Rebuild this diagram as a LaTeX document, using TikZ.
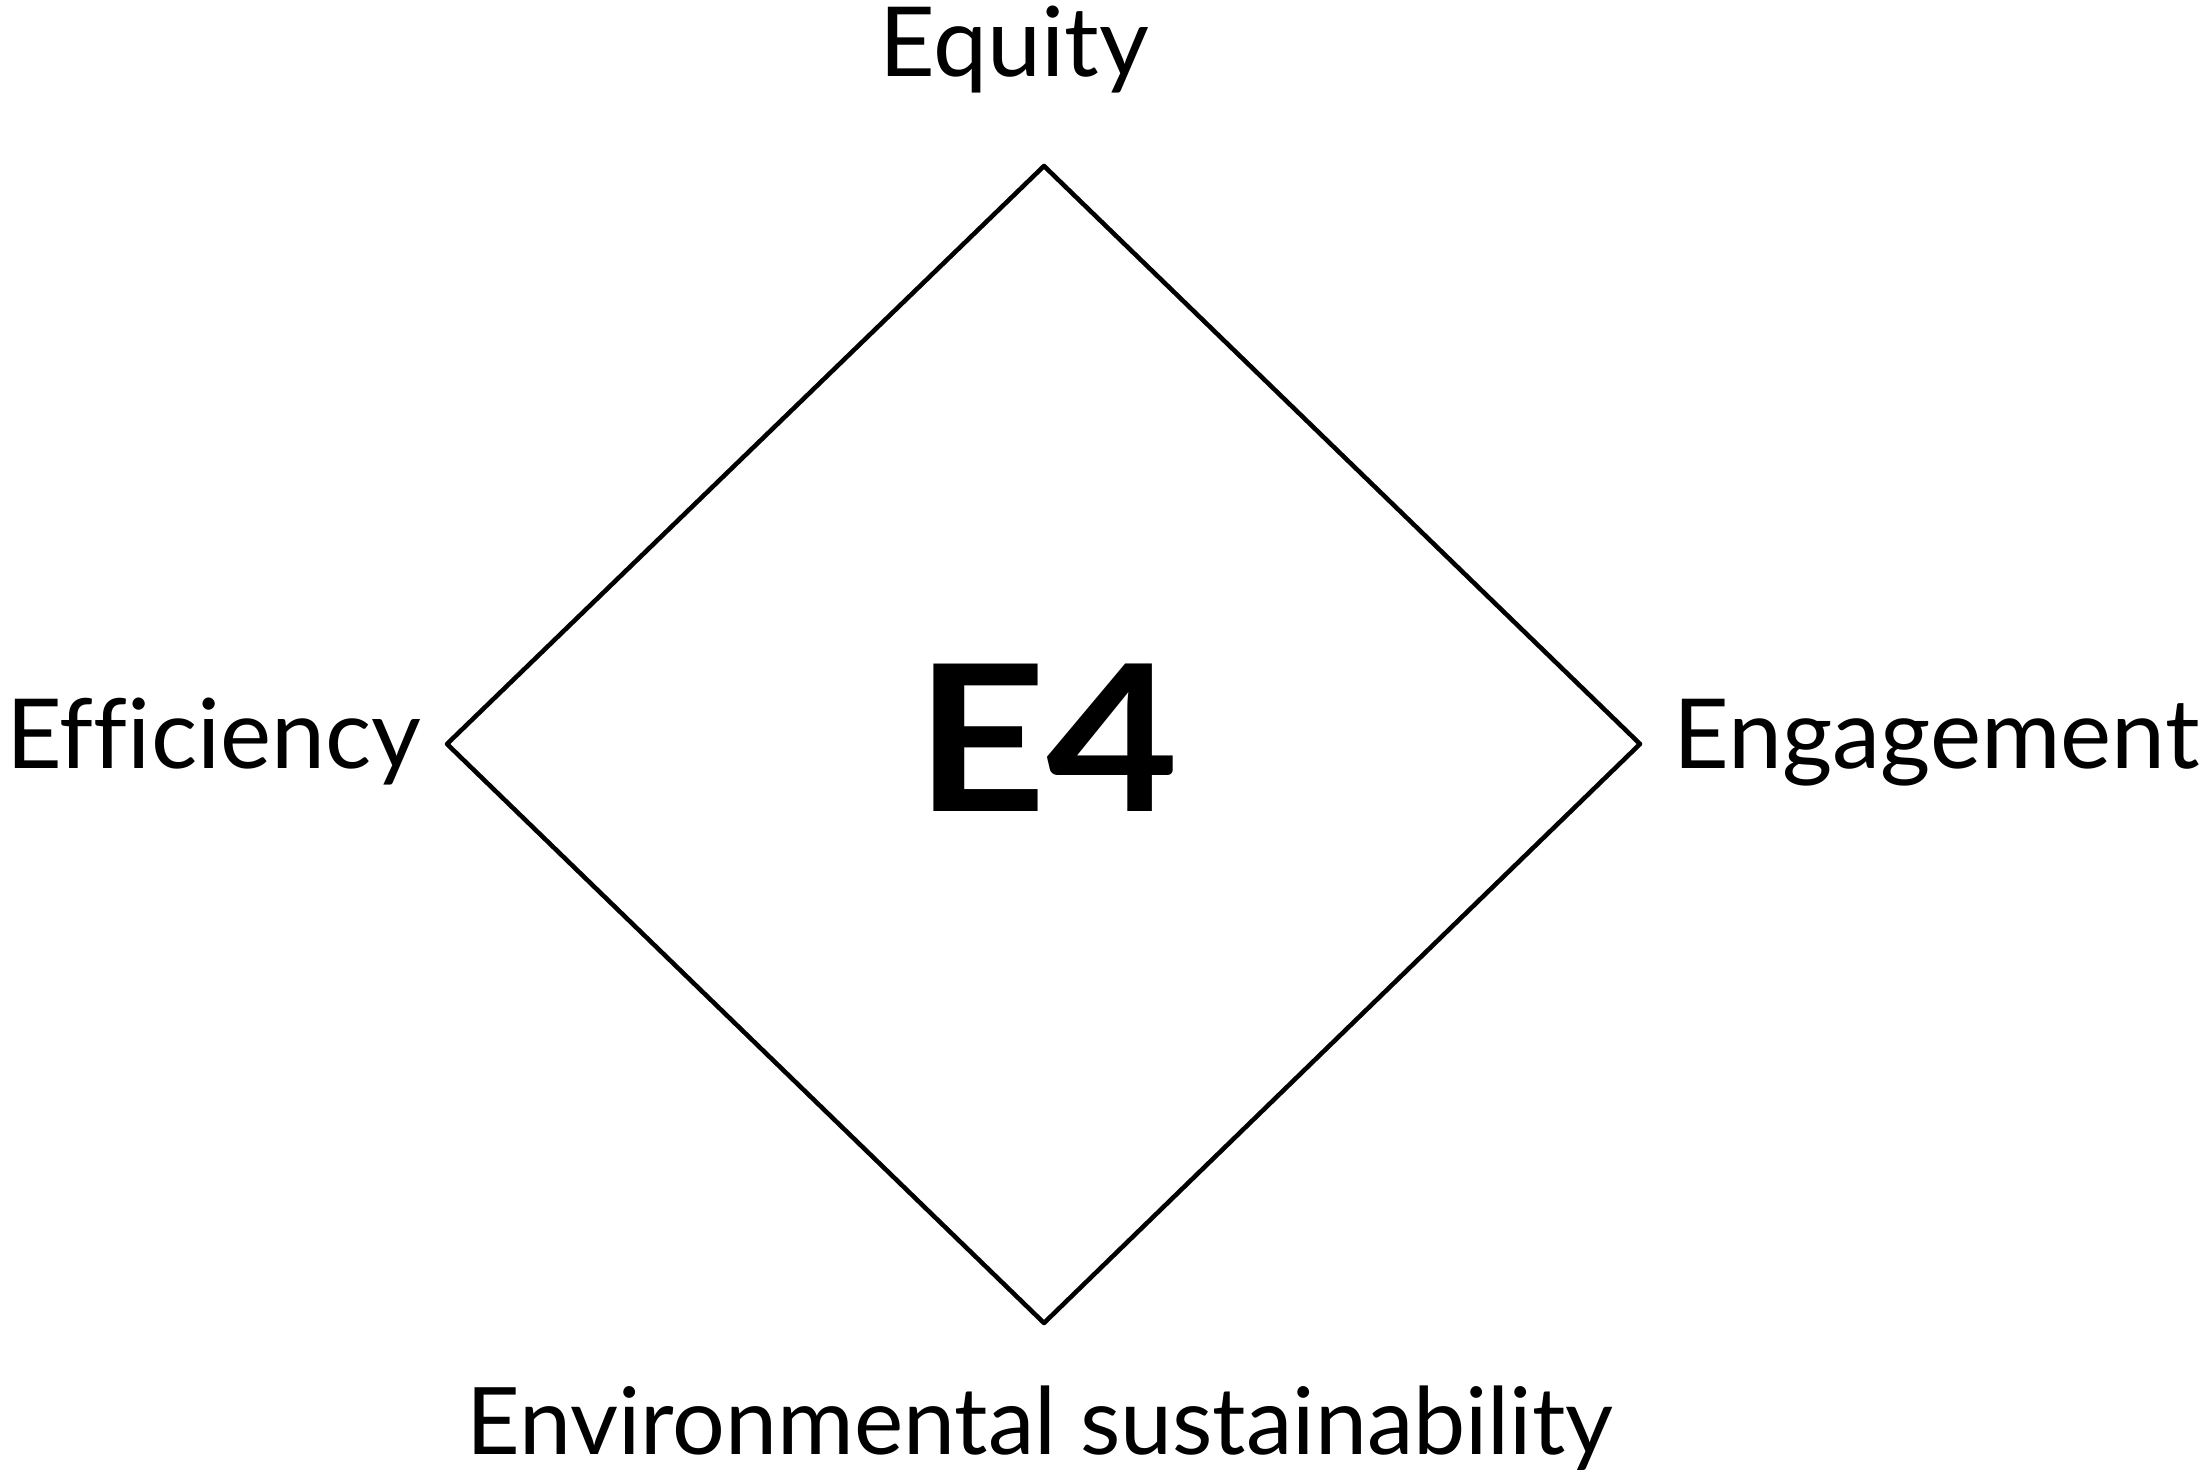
\documentclass[tikz,border=0pt]{standalone}
\usepackage{fontspec}
\setmainfont[Ligatures=NoCommon]{Lato}
\tikzset{
	corner/.style={font=\fontsize{27.5}{32}\selectfont, inner sep=0pt},
	centre/.style={font=\fontsize{58}{66}\selectfont\bfseries, inner sep=0pt, xscale=1.12}
}
\begin{document}
\begin{tikzpicture}[x=0.01cm,y=-0.01cm]
	\useasboundingbox (0,0) rectangle (2204,1474);
	\coordinate (top) at (1044,166);
	\coordinate (left) at (447,744);
	\coordinate (right) at (1640,744);
	\coordinate (bottom) at (1044,1323);
	\draw[line width=1.3pt,line join=round] (top) -- (right) -- (bottom) -- (left) -- cycle;
	\node[centre] (efour) at (1047,738) {E4};
	\node[corner,anchor=base] (equity) at (1014,77) {Equity};
	\node[corner,anchor=base east] (efficiency) at (422,769) {Efficiency};
	\node[corner,anchor=base west] (engagement) at (1673,769) {Engagement};
	\node[corner,font=\fontsize{26.5}{30}\selectfont,anchor=base] (environment) at (1040,1454) {Environmental sustainability};
\end{tikzpicture}
\end{document}
